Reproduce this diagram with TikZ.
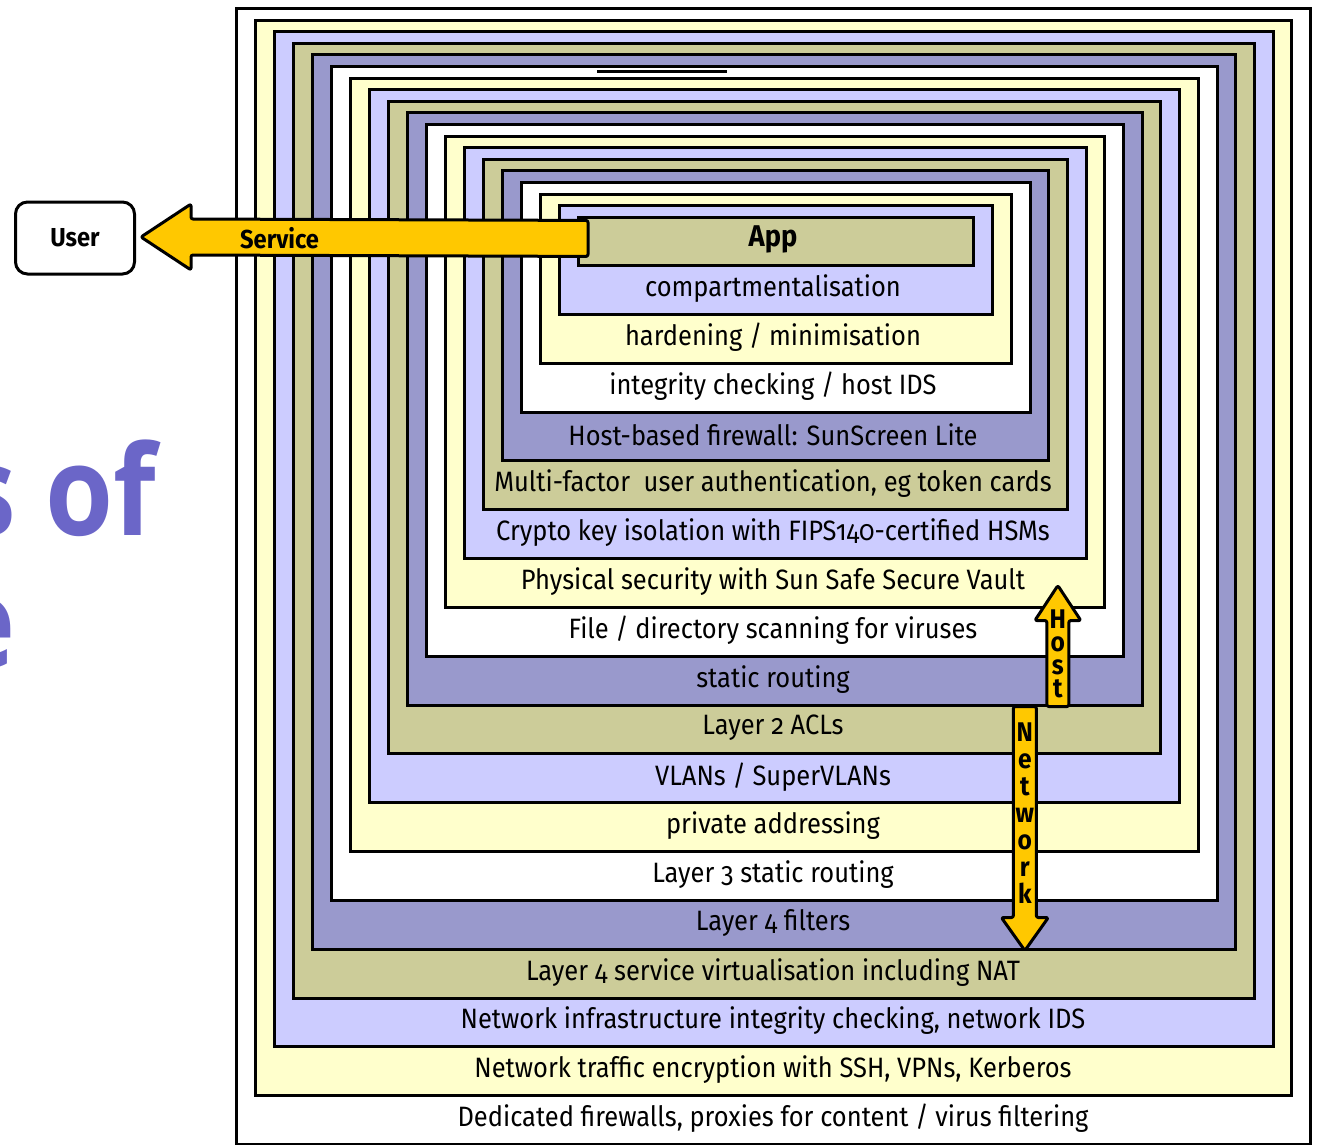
\documentclass[tikz,border=0pt]{standalone}
\usepackage{fontspec}
\setmainfont{Fira Sans}[FakeStretch=0.91,Numbers=OldStyle]
\newfontfamily\headfont{Open Sans}[FakeStretch=0.88]
\usetikzlibrary{positioning,calc}
\definecolor{ringyellow}{HTML}{FFFFCC}
\definecolor{ringlav}{HTML}{CCCCFF}
\definecolor{ringkhaki}{HTML}{CCCC99}
\definecolor{ringslate}{HTML}{9999CC}
\definecolor{arrowyellow}{HTML}{FFC800}
\definecolor{titlepurple}{HTML}{6B66C8}
\tikzstyle{ringbox}=[draw=black, line width=3pt, inner sep=0pt, anchor=north west]
\tikzstyle{ringtext}=[font=\fontsize{28}{30}\selectfont, inner sep=0pt]
\tikzstyle{yelarrow}=[draw=black, line width=3pt, fill=arrowyellow, rounded corners=2pt, line join=round]
\tikzstyle{stacklbl}=[font=\bfseries\fontsize{27}{23}\selectfont, align=center, inner sep=0pt]
\tikzstyle{userbox}=[draw=black, line width=3pt, rounded corners=12pt, fill=white, minimum width=119pt, minimum height=72pt, font=\bfseries\fontsize{26}{28}\selectfont]
\tikzstyle{titletext}=[text=titlepurple, inner sep=0pt, font=\headfont\bfseries\fontsize{125}{132}\selectfont]

\begin{document}
\begin{tikzpicture}[x=1pt,y=-1pt]
\useasboundingbox (0,0) rectangle (1317,1145);
% nested rings, outermost first
\foreach \col/\lbl [count=\i from 0] in {
  white/{Dedicated firewalls, proxies for content / virus filtering},
  ringyellow/{Network traffic encryption with SSH, VPNs, Kerberos},
  ringlav/{Network infrastructure integrity checking, network IDS},
  ringkhaki/{Layer 4 service virtualisation including NAT},
  ringslate/{Layer 4 filters},
  white/{Layer 3 static routing},
  ringyellow/{private addressing},
  ringlav/{VLANs / SuperVLANs},
  ringkhaki/{Layer 2 ACLs},
  ringslate/{static routing},
  white/{File / directory scanning for viruses},
  ringyellow/{Physical security with Sun Safe Secure Vault},
  ringlav/{Crypto key isolation with FIPS140-certified HSMs},
  ringkhaki/{Multi-factor~ user authentication, eg token cards},
  ringslate/{Host-based firewall: SunScreen Lite},
  white/{integrity checking / host IDS},
  ringyellow/{hardening / minimisation},
  ringlav/{compartmentalisation},
  ringkhaki/{\bfseries\fontsize{30}{32}\selectfont App}}
{
  \pgfmathsetmacro{\xl}{235+19*\i}
  \pgfmathsetmacro{\yt}{7+11.6*\i}
  \pgfmathsetmacro{\w}{1074-37.7*\i}
  \pgfmathsetmacro{\h}{1136-60.43*\i}
  \pgfmathsetmacro{\ty}{1143-48.83*\i-24.4}
  \node[ringbox, fill=\col, minimum width=\w, minimum height=\h] (ring\i) at (\xl,\yt) {};
  \node[ringtext] (lab\i) at (773,\ty) {\lbl};
}
\draw[line width=3pt] (597,72) -- (727,72);

% user and the service arrow
\node[userbox] (user) at (75,238) {User};
\draw[yelarrow] ($(user.east)+(5,-1)$) -- ++(50,-33) -- ++(0,15) -- ($(ring18.west)+(11,-21)$)
  -- ++(0,36) -- ($(user.east)+(55,17)$) -- ++(0,15) -- cycle;
\node[font=\bfseries\fontsize{26}{28}\selectfont, inner sep=0pt, right=104pt of user] (svc) {Service};

% host and network arrows
\path (ring9.south) ++(283,0) coordinate (hostfoot);
\path (ring9.south) ++(250,0) coordinate (nettop);
\draw[yelarrow] (hostfoot) ++(-11,0) -- ++(0,-86) -- ++(-12,0) -- ++(23,-35) -- ++(23,35)
  -- ++(-12,0) -- ++(0,86) -- cycle;
\draw[yelarrow] (nettop) ++(-11.5,0) -- ++(0,211) -- ++(-12,0) -- ++(23.5,33) -- ++(23.5,-33)
  -- ++(-12,0) -- ++(0,-211) -- cycle;
\node[stacklbl, above=8pt of hostfoot] (hostlbl) {H\\o\\s\\t};
\node[stacklbl, font=\bfseries\fontsize{27}{27}\selectfont, below=16pt of nettop] (netlbl) {N\\e\\t\\w\\o\\r\\k};

% slide title, cut off at the left
\node[titletext, anchor=base east] (title1) at (156,535) {s of};
\node[titletext, anchor=base east] (title2) at (16,667) {e};
\end{tikzpicture}
\end{document}
